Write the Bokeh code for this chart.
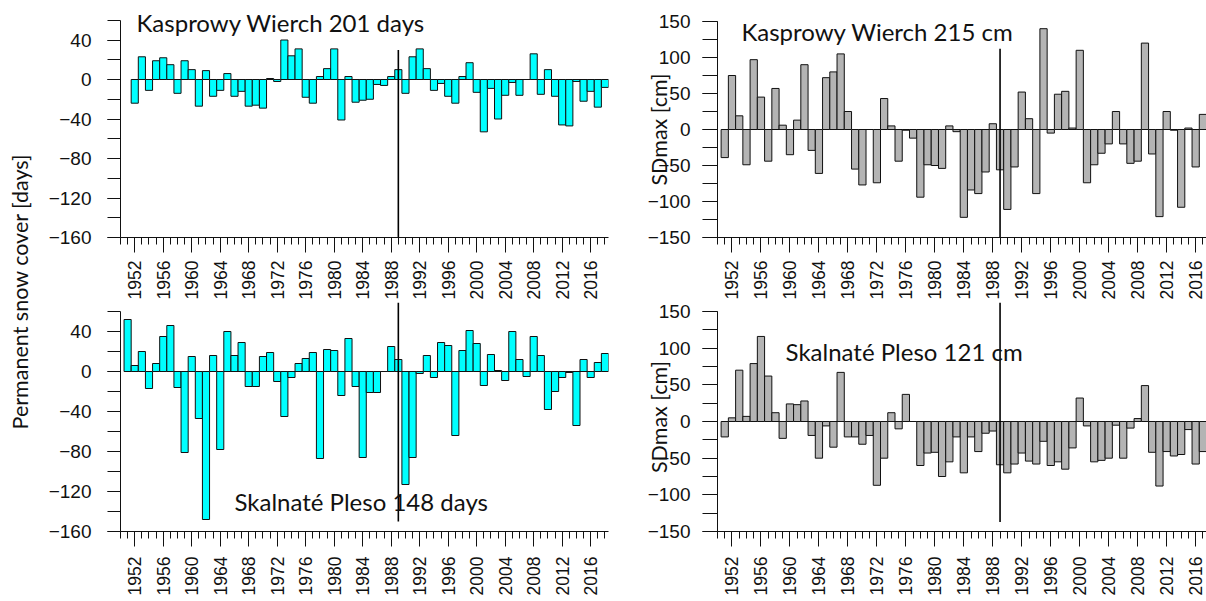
import numpy as np
from bokeh.plotting import figure
from bokeh.models import SingleIntervalTicker, ColumnDataSource, Range1d
from bokeh.layouts import row, column
from bokeh.embed import file_html
from bokeh.resources import INLINE
from bokeh.core.properties import value

# Permanent snow cover anomalies [days]
kw_days_years = list(range(1952, 2019))
kw_days = [
    -24, 23, -11, 19, 22, 15, -14, 19, 10,
    -27, 9, -17, -11, 6, -17, -12, -27, -26, -29,
    1, -2, 40, 24, 31, -18, -24, 3, 11, 31,
    -41, 3, -23, -21, -20, -5, -6, 3, 10, -14,
    23, 31, 11, -11, -4, -17, -24, 3, 17, -13,
    -53, -9, -40, -16, -3, -16, 0, 26, -15, 10,
    -17, -46, -47, -2, -22, -12, -28, -8,
]
sp_days_years = list(range(1951, 2019))
sp_days = [
    52, 6, 20, -17, 8, 35, 46, -16, -81, 15,
    -47, -148, 16, -78, 40, 16, 29, -15, -15, 15,
    19, -10, -45, -6, 8, 13, 19, -87, 22, 21,
    -24, 33, -15, -86, -21, -21, 0, 25, 12, -113,
    -86, -2, 16, -6, 29, 26, -64, 21, 41, 28,
    -14, 17, 1, -9, 40, 12, -5, 35, 16, -38,
    -20, -6, -1, -54, 12, -6, 9, 18,
]

# Maximum snow depth anomalies [cm]
cm_years = list(range(1951, 2018))
kw_cm = [
    -39, 75, 19, -49, 97, 45, -44, 57, 6, -35,
    13, 90, -29, -61, 72, 80, 105, 25, -55, -77,
    0, -74, 43, 5, -44, -1, -12, -94, -49, -50,
    -54, 5, -3, -122, -84, -89, -59, 8, -56, -111,
    -52, 52, 15, -89, 140, -5, 49, 53, 2, 110,
    -74, -49, -33, -20, 25, -20, -47, -44, 120, -34,
    -121, 25, -1, -108, 2, -52, 21,
]
sp_cm = [
    -21, 5, 70, 7, 79, 116, 62, 12, -23, 24,
    23, 28, -19, -50, -6, -35, 67, -21, -21, -31,
    -19, -87, -50, 12, -10, 37, 0, -60, -43, -42,
    -75, -55, -21, -70, -21, -41, -16, -13, -59, -70,
    -58, -43, -54, -58, -27, -60, -55, -65, -36, 32,
    -6, -55, -53, -50, -5, -50, -9, 4, 49, -42,
    -88, -41, -47, -45, -11, -58, -41,
]

break_year = 1989
titles = ["Kasprowy Wierch 201 days", "Skalnaté Pleso 148 days",
          "Kasprowy Wierch 215 cm", "Skalnaté Pleso 121 cm"]

TICK_FONT = "Liberation Sans"
TEXT_FONT = "Lato"
CYAN = "#00FFFF"
GREY = "#B4B4B4"
INK = "#111111"


def panel(years, vals, color, x_end, y_range, y_bounds, y_step, width, height,
          b_left, b_right, b_top, b_bottom, title, title_xy, line_y,
          ytick_len, ylabel_gap, xlabel_gap, ylabel=None):
    p = figure(width=width, height=height,
               x_range=Range1d(1950, x_end), y_range=Range1d(*y_range),
               output_backend="svg", toolbar_location=None,
               min_border_left=b_left, min_border_right=b_right,
               min_border_top=b_top, min_border_bottom=b_bottom,
               background_fill_color="white", border_fill_color="white")
    p.xgrid.visible = False
    p.ygrid.visible = False
    p.outline_line_color = None

    src = ColumnDataSource(dict(year=years, val=vals))
    p.vbar(x="year", top="val", bottom=0, width=1.0, source=src,
           fill_color=color, line_color=INK, line_width=1)

    p.segment(x0=[break_year], x1=[break_year], y0=[line_y[0]], y1=[line_y[1]],
              line_color="black", line_width=1.6)

    p.text(x=[title_xy[0]], y=[title_xy[1]], text=[title],
           text_font=value(TEXT_FONT), text_font_size="24px",
           text_color=INK, text_align="left", text_baseline="alphabetic")

    xa = p.xaxis[0]
    xa.ticker = SingleIntervalTicker(interval=4, num_minor_ticks=4)
    xa.major_tick_out = 15
    xa.major_tick_in = 0
    xa.minor_tick_out = 7
    xa.minor_tick_in = 0
    xa.major_label_orientation = np.pi / 2
    xa.major_label_standoff = xlabel_gap
    xa.major_label_text_font = TICK_FONT
    xa.major_label_text_font_size = "17.5px"
    xa.major_label_text_color = INK
    xa.axis_line_color = INK
    xa.major_tick_line_color = INK
    xa.minor_tick_line_color = INK

    ya = p.yaxis[0]
    ya.ticker = SingleIntervalTicker(interval=y_step, num_minor_ticks=2)
    ya.bounds = y_bounds
    ya.major_tick_out = ytick_len
    ya.major_tick_in = 0
    ya.minor_tick_out = ytick_len
    ya.minor_tick_in = 0
    ya.major_label_standoff = ylabel_gap
    ya.major_label_text_font = TICK_FONT
    ya.major_label_text_font_size = "19px"
    ya.major_label_text_color = INK
    ya.axis_line_color = INK
    ya.major_tick_line_color = INK
    ya.minor_tick_line_color = INK
    if ylabel:
        ya.axis_label = ylabel
        ya.axis_label_text_font = TEXT_FONT
        ya.axis_label_text_font_size = "21.5px"
        ya.axis_label_text_font_style = "normal"
        ya.axis_label_text_color = INK
        ya.axis_label_standoff = -27
    return p


LEFT_END = 2018.5
RIGHT_END = 1950 + 489 / 7.245

tl = panel(kw_days_years, kw_days, CYAN, LEFT_END, (-160, 80), (-160, 60), 40,
           595, 302, 66, 32, 0, 62, titles[0], (1952.25, 58), (30, -160), 13, 16, 8)
bl = panel(sp_days_years, sp_days, CYAN, LEFT_END, (-160, 69), (-160, 60), 40,
           595, 299, 66, 32, 0, 70, titles[1], (1966.0, -130), (69, -150), 13, 16, 10)
tr = panel(cm_years, kw_cm, GREY, RIGHT_END, (-150, 150), (-150, 150), 50,
           566, 302, 77, 0, 21, 62, titles[2], (1953.3, 135.5), (112, -150), 15, 12, 8,
           ylabel="SDmax [cm]")
br = panel(cm_years, sp_cm, GREY, RIGHT_END, (-150, 162.3), (-150, 150), 50,
           566, 299, 77, 0, 0, 70, titles[3], (1959.4, 96), (162.3, -137), 15, 12, 10,
           ylabel="SDmax [cm]")

# Shared label for the two snow-cover panels
lab = figure(width=45, height=601, x_range=Range1d(0, 45), y_range=Range1d(0, 601),
             output_backend="svg", toolbar_location=None,
             min_border_left=0, min_border_right=0, min_border_top=0, min_border_bottom=0,
             border_fill_color="white")
lab.axis.visible = False
lab.xgrid.visible = False
lab.ygrid.visible = False
lab.outline_line_color = None
lab.text(x=[19.5], y=[310], text=["Permanent snow cover [days]"], angle=np.pi / 2,
         text_font=value(TEXT_FONT), text_font_size="21.5px", text_color=INK,
         text_align="center", text_baseline="alphabetic")

layout = row(lab, column(tl, bl), column(tr, br))

with open("out.html", "w") as f:
    f.write(file_html(layout, INLINE))
